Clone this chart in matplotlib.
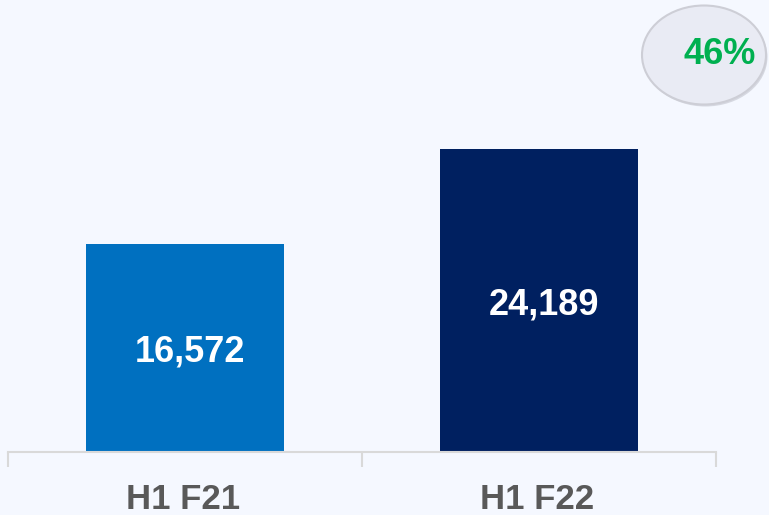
import matplotlib
matplotlib.use("Agg")
import matplotlib.pyplot as plt
from matplotlib.patches import Ellipse
from matplotlib.transforms import blended_transform_factory

categories = ["H1 F21", "H1 F22"]
values = [16572, 24189]
value_labels = ["16,572", "24,189"]
growth_label = "46%"

bar_colors = ["#0070C0", "#002060"]
bg = "#F5F8FF"

plt.rcParams['font.family'] = ['Liberation Sans', 'DejaVu Sans']

fig = plt.figure(figsize=(7.69, 5.15), dpi=100, facecolor=bg)
ax = fig.add_axes([8/769, (515-452)/515, (716-8)/769, 452/515])
ax.set_facecolor(bg)

x = list(range(len(categories)))
bars = ax.bar(x, values, width=0.56, color=bar_colors, zorder=2)
ax.set_xlim(-0.5, len(categories) - 0.5)
ax.set_ylim(0, 452 * 79.75)

for xi, v, lab in zip(x, values, value_labels):
    ax.annotate(lab, (xi, v / 2), xytext=(3.6, -3.0), textcoords='offset points',
                ha='center', va='center', color='white',
                fontsize=26, fontweight='bold', zorder=3)

# axis styling
for s in ['top', 'right', 'left']:
    ax.spines[s].set_visible(False)
ax.spines['bottom'].set_color('#D9D9D9')
ax.spines['bottom'].set_linewidth(1.5)
ax.set_yticks([])
ax.set_xticks([])
ax.set_xticks([i - 0.5 for i in range(len(categories) + 1)], minor=True)
ax.tick_params(axis='x', which='minor', length=11, width=1.5, color='#D9D9D9',
               labelbottom=False)

trans = blended_transform_factory(ax.transData, fig.transFigure)
for xi, c in zip(x, categories):
    ax.text(xi - 0.005, (515 - 509) / 515, c, transform=trans, ha='center',
            va='baseline', fontsize=25, fontweight='bold', color='#595959',
            clip_on=False)

# growth bubble
cx, cy, w, h = 704/769, 1 - 55/515, 124/769, 99/515
shadow = Ellipse((cx + 1.5/769, cy - 2/515), w, h, transform=fig.transFigure,
                 facecolor='#B8BAC4', edgecolor='none', alpha=0.5)
fig.add_artist(shadow)
ell = Ellipse((cx, cy), w, h, transform=fig.transFigure,
              facecolor='#E9EBF4', edgecolor='#CDCED6', linewidth=1.5)
fig.add_artist(ell)
fig.text(720/769, 1 - 55/515, growth_label, ha='center', va='center',
         fontsize=26, fontweight='bold', color='#00B050')

fig.savefig("out.png", dpi=100, facecolor=bg)
